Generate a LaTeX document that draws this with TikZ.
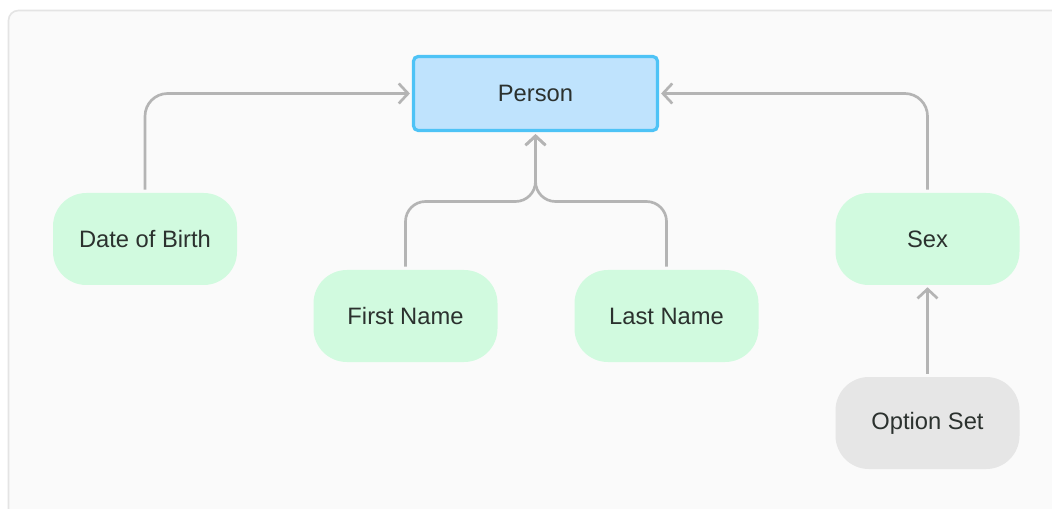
\documentclass[tikz,border=0pt]{standalone}
\usepackage{fontspec}
\setmainfont{Liberation Sans}
\usetikzlibrary{arrows.meta}
\definecolor{panelbg}{HTML}{FAFAFA}
\definecolor{panelline}{HTML}{E4E4E4}
\definecolor{greenfill}{HTML}{D1FADF}
\definecolor{bluefill}{HTML}{BFE3FD}
\definecolor{blueline}{HTML}{4EC3F6}
\definecolor{grayfill}{HTML}{E6E6E6}
\definecolor{connline}{HTML}{B4B4B4}
\definecolor{txt}{HTML}{2B312E}
\tikzset{
  box/.style={minimum width=138pt, minimum height=69pt, rounded corners=25pt,
    inner sep=0pt, text=txt, font=\fontsize{17.8}{21}\selectfont},
  attr/.style={box, fill=greenfill},
  optbox/.style={box, fill=grayfill},
  entity/.style={box, minimum width=183pt, minimum height=55.5pt, rounded corners=3.5pt,
    fill=bluefill, draw=blueline, line width=2.4pt},
  conn/.style={draw=connline, line width=2pt,
    -{Straight Barb[length=7pt, width=15pt, line width=2pt]},
    shorten <=2.25pt, shorten >=1.5pt},
}
\begin{document}
\begin{tikzpicture}[x=0.75pt, y=-0.75pt]
\useasboundingbox (0,0) rectangle (1052,509);
\clip (0,0) rectangle (1052,509);
\fill[white] (0,0) rectangle (1052,509);
\draw[fill=panelbg, draw=panelline, line width=1.2pt, rounded corners=7.5pt] (8.5,10.5) rectangle (1080,540);

\node[entity] (person) at (535.5,93.5) {Person};
\node[attr] (dob) at (145,239) {Date of Birth};
\node[attr] (fn) at (405.5,316) {First Name};
\node[attr] (ln) at (666.5,316) {Last Name};
\node[attr] (sex) at (927.5,239) {Sex};
\node[optbox] (opt) at (927.5,423) {Option Set};

\draw[conn, rounded corners=17pt] (dob.north) |- (person.west);
\draw[conn, rounded corners=17pt] (sex.north) |- (person.east);
\draw[conn, rounded corners=15pt] (fn.north) -- (fn.north |- 0,201.5) -- (person.south |- 0,201.5) -- (person.south);
\draw[conn, rounded corners=15pt] (ln.north) -- (ln.north |- 0,201.5) -- (person.south |- 0,201.5) -- (person.south);
\draw[conn] (opt.north) -- (sex.south);
\end{tikzpicture}
\end{document}
